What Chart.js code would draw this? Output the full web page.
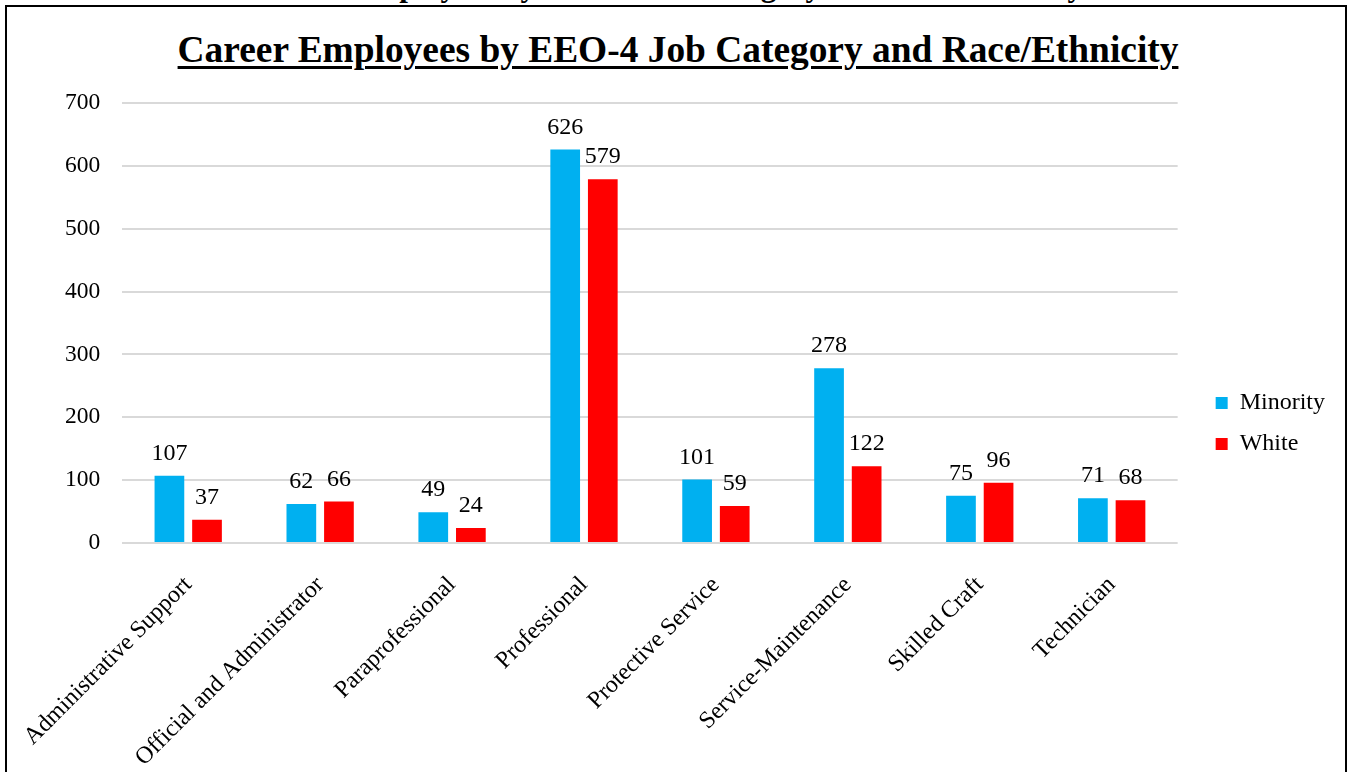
<!DOCTYPE html>
<html>
<head>
<meta charset="utf-8">
<script src="https://cdn.jsdelivr.net/npm/chart.js@4"></script>
<style>
  html, body { margin: 0; padding: 0; background: #fff; overflow: hidden; }
  body { width: 1351px; height: 772px; position: relative; }
  #pageHead {
    position: absolute; left: 0; width: 1336px; top: -30px;
    text-align: center; font: bold 31px "Times New Roman", "Liberation Serif", serif;
    line-height: 31px; white-space: nowrap; color: #000;
  }
  #frame {
    position: absolute; left: 5px; top: 5px; width: 1338px; height: 820px;
    border: 2px solid #000; background: #fff;
  }
  #title {
    position: absolute; left: 2px; top: 0; width: 1338px;
    text-align: center; font: bold 37.4px "Times New Roman", "Liberation Serif", serif;
    line-height: 37px; padding-top: 24px; white-space: nowrap; color: #000;
    text-decoration: underline; text-decoration-thickness: 3px; text-underline-offset: 4px;
  }
  #wrap { position: absolute; left: 0; top: 60px; width: 1338px; height: 725px; }
</style>
</head>
<body>
<div id="pageHead">Career Employees by EEO-4 Job Category and Race/Ethnicity</div>
<div id="frame">
  <div id="title">Career Employees by EEO-4 Job Category and Race/Ethnicity</div>
  <div id="wrap"><canvas id="chartjs-0"></canvas></div>
</div>
<script>
"use strict";

// job categories along the x axis
var categories = ["Administrative Support", "Official and Administrator", "Paraprofessional",
  "Professional", "Protective Service", "Service-Maintenance", "Skilled Craft", "Technician"];

// head counts per category
var minority = [107, 62, 49, 626, 101, 278, 75, 71];
var white = [37, 66, 24, 579, 59, 122, 96, 68];

// y axis range
var yMax = 700;
var yStep = 100;

var serif = '"Times New Roman", "Liberation Serif", serif';

/* prints each bar's value above it */
var valueLabels = {
  id: "valueLabels",
  afterDatasetsDraw: function (chart) {
    var ctx = chart.ctx;
    ctx.save();
    ctx.font = "24px " + serif;
    ctx.fillStyle = "#000";
    ctx.textAlign = "center";
    ctx.textBaseline = "alphabetic";
    chart.data.datasets.forEach(function (ds, i) {
      chart.getDatasetMeta(i).data.forEach(function (bar, j) {
        ctx.fillText(String(ds.data[j]), bar.x, bar.y - 16);
      });
    });
    ctx.restore();
  }
};

/* leaves some room between the plot and the legend */
var legendGap = {
  id: "legendGap",
  afterLayout: function (chart) {
    var lg = chart.legend;
    if (lg) {
      lg.left += 21;
      lg.right += 21;
      lg.top -= 8;
      lg.bottom -= 8;
    }
  }
};

var ctx0 = document.getElementById("chartjs-0");
var myChart = new Chart(ctx0, {
  type: "bar",
  data: {
    labels: categories,
    datasets: [
      { label: "Minority", data: minority, backgroundColor: "#00B0F0", borderWidth: 0,
        barPercentage: 0.79, categoryPercentage: 0.57 },
      { label: "White", data: white, backgroundColor: "#FF0000", borderWidth: 0,
        barPercentage: 0.79, categoryPercentage: 0.57 }
    ]
  },
  options: {
    responsive: true,
    maintainAspectRatio: false,
    animation: false,
    layout: { padding: { left: 36, right: 31, top: 4, bottom: 0 } },
    plugins: {
      title: { display: false },
      tooltip: { enabled: false },
      legend: {
        position: "right",
        labels: {
          font: { family: serif, size: 24 },
          color: "#000",
          boxWidth: 12,
          boxHeight: 12,
          padding: 17
        }
      }
    },
    scales: {
      x: {
        grid: { display: false },
        border: { display: false },
        // the slanted first label may hang past the plot's left edge
        afterFit: function (scale) { scale.paddingLeft = 0; },
        ticks: {
          font: { family: serif, size: 24 },
          color: "#000",
          maxRotation: 45,
          minRotation: 45,
          padding: 20,
          autoSkip: false
        }
      },
      y: {
        min: 0,
        max: yMax,
        grid: { color: "#d9d9d9", lineWidth: 2, drawTicks: false },
        border: { display: false },
        ticks: {
          stepSize: yStep,
          font: { family: serif, size: 23.5 },
          color: "#000",
          padding: 22
        }
      }
    }
  },
  plugins: [valueLabels, legendGap]
});
</script>
</body>
</html>
